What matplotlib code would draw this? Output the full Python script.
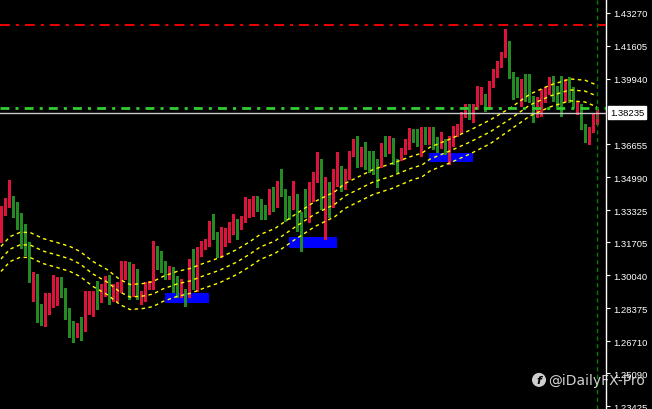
import matplotlib
matplotlib.use("Agg")
import matplotlib.pyplot as plt
from matplotlib.patches import Rectangle, Ellipse

# ---- candle data, index = bar number ----
opens = [1.3197, 1.3333, 1.3363, 1.3384, 1.3348, 1.3278, 1.3257, 1.3157, 1.2975, 1.3000,
         1.2798, 1.2768, 1.2834, 1.2879, 1.2960, 1.2970, 1.2919, 1.2813, 1.2723, 1.2713,
         1.2748, 1.2748, 1.2824, 1.2849, 1.2919, 1.2879, 1.2914, 1.2975, 1.2884, 1.2894,
         1.2924, 1.3015, 1.3061, 1.2924, 1.3010, 1.2894, 1.2884, 1.2940, 1.2940, 1.3141,
         1.3081, 1.3051, 1.3010, 1.3036, 1.2980, 1.2914, 1.2919, 1.2904, 1.3051, 1.2985,
         1.3131, 1.3151, 1.3157, 1.3272, 1.3217, 1.3101, 1.3172, 1.3192, 1.3242, 1.3267,
         1.3252, 1.3283, 1.3318, 1.3353, 1.3384, 1.3353, 1.3323, 1.3318, 1.3419, 1.3358,
         1.3444, 1.3409, 1.3378, 1.3348, 1.3399, 1.3298, 1.3348, 1.3318, 1.3454, 1.3505,
         1.3585, 1.3409, 1.3459, 1.3353, 1.3484, 1.3545, 1.3444, 1.3495, 1.3626, 1.3666,
         1.3565, 1.3626, 1.3606, 1.3565, 1.3570, 1.3555, 1.3666, 1.3631, 1.3686, 1.3585,
         1.3590, 1.3626, 1.3651, 1.3732, 1.3686, 1.3626, 1.3737, 1.3681, 1.3707, 1.3666,
         1.3656, 1.3666, 1.3641, 1.3666, 1.3717, 1.3732, 1.3807, 1.3853, 1.3817, 1.3848,
         1.3893, 1.3903, 1.3858, 1.3974, 1.4009, 1.4060, 1.4110, 1.4145, 1.4014, 1.3933,
         1.3923, 1.3959, 1.3954, 1.3903, 1.3807, 1.3817, 1.3883, 1.3944, 1.3994, 1.3928,
         1.3908, 1.3898, 1.3964, 1.3928, 1.3833, 1.3863, 1.3757, 1.3686, 1.3732, 1.3797]
highs = [1.3355, 1.3394, 1.3484, 1.3404, 1.3373, 1.3318, 1.3262, 1.3172, 1.3020, 1.3010,
         1.2859, 1.2914, 1.2914, 1.3005, 1.2995, 1.2995, 1.2940, 1.2839, 1.2773, 1.2763,
         1.2793, 1.2924, 1.2924, 1.2924, 1.2975, 1.2960, 1.3000, 1.3005, 1.2960, 1.2970,
         1.3076, 1.3076, 1.3071, 1.3061, 1.3036, 1.2924, 1.2970, 1.2975, 1.3177, 1.3151,
         1.3126, 1.3076, 1.3051, 1.3046, 1.3000, 1.2985, 1.2935, 1.3086, 1.3136, 1.3146,
         1.3177, 1.3187, 1.3278, 1.3313, 1.3222, 1.3247, 1.3242, 1.3272, 1.3313, 1.3288,
         1.3303, 1.3399, 1.3389, 1.3404, 1.3404, 1.3389, 1.3358, 1.3439, 1.3449, 1.3479,
         1.3540, 1.3439, 1.3404, 1.3479, 1.3414, 1.3323, 1.3439, 1.3474, 1.3525, 1.3626,
         1.3590, 1.3500, 1.3474, 1.3540, 1.3626, 1.3555, 1.3540, 1.3631, 1.3691, 1.3707,
         1.3651, 1.3676, 1.3631, 1.3631, 1.3590, 1.3671, 1.3707, 1.3707, 1.3696, 1.3590,
         1.3646, 1.3691, 1.3747, 1.3742, 1.3742, 1.3752, 1.3752, 1.3752, 1.3752, 1.3702,
         1.3727, 1.3691, 1.3707, 1.3757, 1.3767, 1.3828, 1.3868, 1.3868, 1.3868, 1.3959,
         1.3954, 1.3918, 1.3984, 1.4045, 1.4085, 1.4130, 1.4246, 1.4186, 1.4029, 1.4004,
         1.3994, 1.4019, 1.4019, 1.3908, 1.3903, 1.3944, 1.3954, 1.4004, 1.4009, 1.3959,
         1.4009, 1.3994, 1.4004, 1.3954, 1.3883, 1.3868, 1.3767, 1.3752, 1.3817, 1.3843]
lows = [1.3172, 1.3308, 1.3348, 1.3298, 1.3237, 1.3141, 1.3106, 1.2968, 1.2874, 1.2768,
        1.2753, 1.2748, 1.2808, 1.2844, 1.2854, 1.2894, 1.2783, 1.2692, 1.2667, 1.2692,
        1.2677, 1.2723, 1.2808, 1.2798, 1.2834, 1.2869, 1.2899, 1.2859, 1.2874, 1.2874,
        1.2919, 1.2985, 1.2884, 1.2899, 1.2884, 1.2859, 1.2874, 1.2935, 1.2935, 1.3036,
        1.3020, 1.2985, 1.2985, 1.2919, 1.2894, 1.2894, 1.2849, 1.2894, 1.2935, 1.2924,
        1.3101, 1.3136, 1.3151, 1.3187, 1.3096, 1.3096, 1.3151, 1.3172, 1.3212, 1.3187,
        1.3237, 1.3272, 1.3298, 1.3303, 1.3328, 1.3288, 1.3288, 1.3313, 1.3328, 1.3348,
        1.3404, 1.3278, 1.3288, 1.3338, 1.3227, 1.3126, 1.3298, 1.3272, 1.3378, 1.3475,
        1.3338, 1.3187, 1.3298, 1.3348, 1.3454, 1.3429, 1.3439, 1.3490, 1.3606, 1.3550,
        1.3555, 1.3540, 1.3525, 1.3515, 1.3449, 1.3550, 1.3606, 1.3621, 1.3565, 1.3525,
        1.3585, 1.3616, 1.3641, 1.3676, 1.3656, 1.3606, 1.3666, 1.3666, 1.3641, 1.3626,
        1.3646, 1.3616, 1.3565, 1.3656, 1.3707, 1.3722, 1.3802, 1.3792, 1.3777, 1.3843,
        1.3868, 1.3833, 1.3853, 1.3954, 1.4004, 1.4055, 1.4105, 1.3999, 1.3893, 1.3903,
        1.3858, 1.3883, 1.3878, 1.3777, 1.3802, 1.3807, 1.3878, 1.3918, 1.3883, 1.3858,
        1.3807, 1.3883, 1.3878, 1.3853, 1.3817, 1.3742, 1.3676, 1.3666, 1.3727, 1.3767]
closes = [1.3353, 1.3368, 1.3384, 1.3348, 1.3273, 1.3268, 1.3136, 1.2970, 1.3000, 1.2793,
          1.2788, 1.2839, 1.2884, 1.2965, 1.2970, 1.2914, 1.2808, 1.2717, 1.2713, 1.2738,
          1.2733, 1.2829, 1.2854, 1.2914, 1.2879, 1.2935, 1.2975, 1.2869, 1.2919, 1.2930,
          1.3046, 1.3061, 1.2924, 1.3010, 1.2894, 1.2904, 1.2945, 1.2945, 1.3141, 1.3071,
          1.3036, 1.3010, 1.3036, 1.2975, 1.2914, 1.2950, 1.2904, 1.3056, 1.2970, 1.3141,
          1.3146, 1.3161, 1.3272, 1.3212, 1.3101, 1.3197, 1.3192, 1.3242, 1.3267, 1.3252,
          1.3288, 1.3323, 1.3358, 1.3384, 1.3348, 1.3303, 1.3313, 1.3419, 1.3358, 1.3449,
          1.3429, 1.3373, 1.3353, 1.3404, 1.3288, 1.3222, 1.3323, 1.3464, 1.3510, 1.3585,
          1.3495, 1.3459, 1.3353, 1.3490, 1.3535, 1.3444, 1.3500, 1.3626, 1.3661, 1.3565,
          1.3626, 1.3606, 1.3560, 1.3555, 1.3510, 1.3666, 1.3631, 1.3686, 1.3580, 1.3580,
          1.3631, 1.3651, 1.3732, 1.3681, 1.3671, 1.3737, 1.3681, 1.3722, 1.3656, 1.3656,
          1.3712, 1.3641, 1.3676, 1.3732, 1.3742, 1.3817, 1.3833, 1.3817, 1.3858, 1.3903,
          1.3903, 1.3863, 1.3979, 1.4009, 1.4065, 1.4115, 1.4145, 1.4004, 1.3928, 1.3923,
          1.3954, 1.3949, 1.3893, 1.3833, 1.3833, 1.3933, 1.3939, 1.3994, 1.3918, 1.3898,
          1.3893, 1.3964, 1.3923, 1.3863, 1.3868, 1.3752, 1.3686, 1.3742, 1.3792, 1.3828]

# ---- band indicator (middle line read at some bars) and half width ----
band_x = [0, 2.25, 4.75, 7.25, 10.5, 14, 17.25, 19.75, 23, 26.5, 29.75, 32.25, 35.5, 38,
          40.5, 44, 47.25, 50.5, 54.75, 59, 62.25, 64.75, 68.5, 73.5, 78.5, 83.5, 86,
          88.5, 93, 97.75, 102.75, 105.25, 107.25, 112.25, 117.25, 122.25, 127.25,
          132.25, 137.25, 142.25, 146, 149]
band_mid = [1.3086, 1.3136, 1.3157, 1.3157, 1.3126, 1.3106, 1.3086, 1.3061, 1.3010, 1.2970,
            1.2919, 1.2894, 1.2899, 1.2909, 1.2935, 1.2960, 1.2975, 1.3000, 1.3030, 1.3071,
            1.3111, 1.3146, 1.3177, 1.3247, 1.3313, 1.3363, 1.3404, 1.3429, 1.3474, 1.3505,
            1.3545, 1.3560, 1.3590, 1.3631, 1.3676, 1.3727, 1.3792, 1.3863, 1.3908, 1.3939,
            1.3933, 1.3908]
band_half = [0.0063] * 30 + [0.0060] * 6 + [0.0055] * 6

# ---- horizontal levels, boxes, axis ----
red_level = 1.42664
green_level = 1.38477
last_price = 1.38235
box_start = [41, 72, 107]
box_end = [52, 84, 118]
box_top = [1.2914, 1.3197, 1.3621]
box_bottom = [1.2864, 1.3141, 1.3575]
tick_vals = [1.43270, 1.41605, 1.39940, 1.36655, 1.34990, 1.33325, 1.31705,
             1.30040, 1.28375, 1.26710, 1.25090, 1.23425]
tick_labels = ["1.43270", "1.41605", "1.39940", "1.36655", "1.34990", "1.33325", "1.31705",
               "1.30040", "1.28375", "1.26710", "1.25090", "1.23425"]

UP = "#dc143c"
DOWN = "#228b22"

fig = plt.figure(figsize=(6.52, 4.10), dpi=100, facecolor="black")
ax = fig.add_axes([0, 0, 606 / 652, 1])
ax.set_facecolor("black")

# boxes under the candles
for s, e, t, b in zip(box_start, box_end, box_top, box_bottom):
    ax.add_patch(Rectangle((s, b), e - s, t - b, facecolor="#0000ff", edgecolor="none",
                           antialiased=False, zorder=1))

# candles
for i in range(len(opens)):
    o, h, l, c = opens[i], highs[i], lows[i], closes[i]
    col = UP if c >= o else DOWN
    ax.vlines(i, l, h, color=col, lw=1, antialiased=False, zorder=2)
    bot = min(o, c)
    hgt = max(abs(c - o), 0.0005)
    ax.bar(i, hgt, bottom=bot, width=0.68, color=col, linewidth=0,
           antialiased=False, zorder=3)

# bands
upper = [m + w for m, w in zip(band_mid, band_half)]
lower = [m - w for m, w in zip(band_mid, band_half)]
for series in (upper, band_mid, lower):
    ax.plot(band_x, series, color="#ffff00", lw=1, linestyle=(0, (2.5, 2.5)), zorder=4)

# levels
ax.axhline(red_level, color="#ff0000", lw=1.3, linestyle=(0, (5.5, 3.3, 1.7, 3.3)), zorder=5)
ax.axhline(green_level, color="#32cd32", lw=2, linestyle=(0, (3.2, 2.2, 1.1, 2.2)), zorder=5)
ax.axhline(last_price, color="#c8c8c8", lw=1, zorder=5)
ax.axvline(149, color="#008000", lw=1, linestyle=(0, (3, 2.5)), zorder=5)

ax.set_xlim(-0.25, 151.25)
ax.set_ylim(1.23291, 1.43976)

for side in ("left", "top", "bottom"):
    ax.spines[side].set_visible(False)
ax.spines["right"].set_color("white")
ax.spines["right"].set_linewidth(1)
ax.set_xticks([])
ax.yaxis.tick_right()
ax.set_yticks(tick_vals)
ax.set_yticklabels(tick_labels, fontfamily="Liberation Sans")
ax.tick_params(axis="y", colors="white", labelsize=6.8, length=3, width=0.8, pad=2.5)

# current price label
ax.text(1.0 + 4 / 606, last_price, "1.38235", transform=ax.get_yaxis_transform(),
        ha="left", va="center", fontsize=6.8, color="black", fontfamily="Liberation Sans",
        bbox=dict(boxstyle="square,pad=0.2", facecolor="white", edgecolor="white"),
        clip_on=False, zorder=10)

# watermark
fig.add_artist(Ellipse((539 / 652, 0.071), 14 / 652, 14 / 410, transform=fig.transFigure,
                       facecolor="#e6e6e6", edgecolor="none", alpha=0.9))
fig.text(539 / 652, 0.071, "f", color="black", fontsize=8, fontweight="bold",
         fontstyle="italic", ha="center", va="center")
fig.text(548 / 652, 0.071, "@iDailyFX-Pro", color="#e6e6e6", alpha=0.9, fontsize=10,
         ha="left", va="center")

fig.savefig("out.png", dpi=100, facecolor="black")
